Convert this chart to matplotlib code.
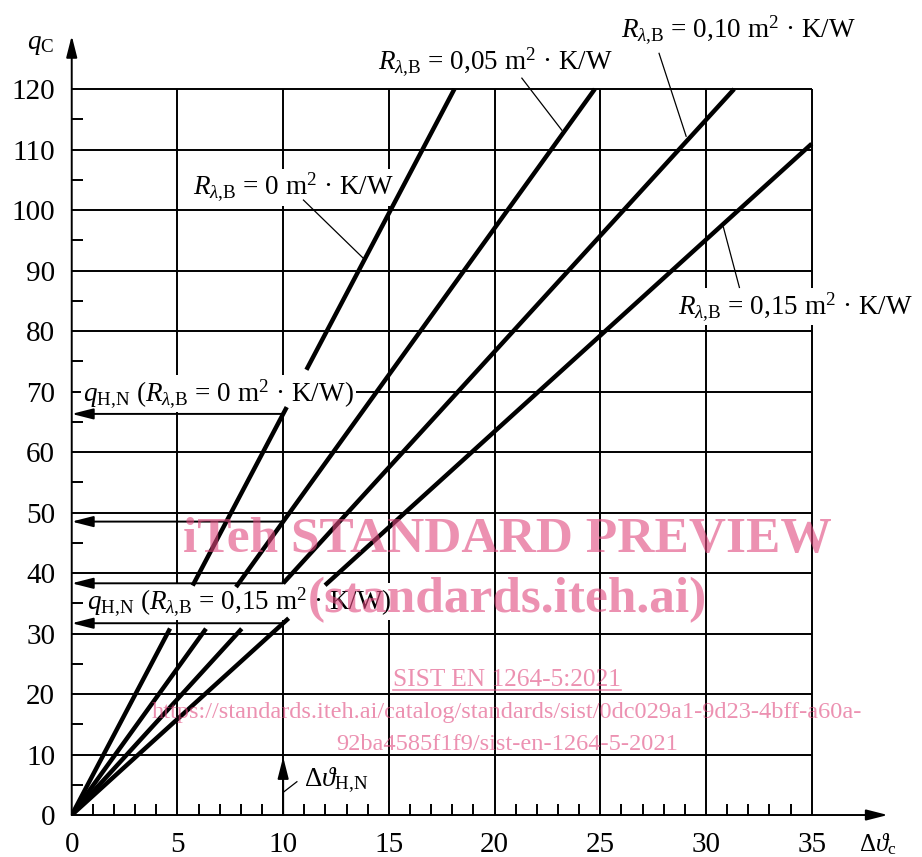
import matplotlib
matplotlib.use('Agg')
import matplotlib.pyplot as plt

plt.rcParams['font.family'] = ['Liberation Serif', 'DejaVu Serif']
plt.rcParams['mathtext.fontset'] = 'custom'
plt.rcParams['mathtext.rm'] = 'Liberation Serif'
plt.rcParams['mathtext.it'] = 'Liberation Serif:italic'
plt.rcParams['mathtext.bf'] = 'Liberation Serif:bold'

# Kennlinien: Waermestromdichte q bei dT = 10 K (Schnittpunkte mit der Normlinie)
r_werte = ['0', '0,05', '0,10', '0,15']
q_hn = [66.3, 48.5, 38.3, 31.7]
dt_hn = 10
# sichtbare Abschnitte jeder Linie (x-Bereiche), Luecken wegen Beschriftung
abschnitte = [
    [(0, 4.65), (5.72, 10.17), (11.1, None)],
    [(0, 6.35), (7.77, None)],
    [(0, 8.04), (10.0, None)],
    [(0, 10.26), (11.98, None)],
]

x_ticks = [0, 5, 10, 15, 20, 25, 30, 35]
y_ticks = [0, 10, 20, 30, 40, 50, 60, 70, 80, 90, 100, 110, 120]
x_max, y_max = 35, 120

fig = plt.figure(figsize=(9.22, 8.57), dpi=100)
ax = fig.add_axes([0.0778, 0.049, 0.8943, 0.9177])
ax.set_xlim(0, 39)
ax.set_ylim(0, 130)
for s in ax.spines.values():
    s.set_visible(False)

# Gitter
ax.vlines(x_ticks[1:], 0, y_max, color='black', lw=1.4, zorder=1)
ax.hlines(y_ticks[1:], 0, x_max, color='black', lw=1.4, zorder=1)

pfeil = dict(arrowstyle='-|>,head_length=1.3,head_width=0.33',
             lw=1.4, color='black', shrinkA=0, shrinkB=0)

# Achsen mit Pfeilen
ax.annotate('', xy=(38.6, 0), xytext=(0, 0), arrowprops=pfeil, zorder=5)
ax.annotate('', xy=(0, 128.8), xytext=(0, 0), arrowprops=pfeil, zorder=5)

ax.set_xticks(x_ticks)
ax.set_yticks(y_ticks)
ax.set_xticks([v for v in range(1, 35) if v % 5], minor=True)
ax.set_yticks([v for v in range(5, 120, 10)], minor=True)
ax.tick_params(which='major', length=0, labelsize=21, pad=12)
ax.tick_params(which='minor', direction='in', length=8, width=1.4)

# Kennlinien
for q, teile in zip(q_hn, abschnitte):
    k = q / dt_hn
    x_end = min(x_max, y_max / k)
    for a, b in teile:
        b = x_end if b is None else b
        ax.plot([a, b], [k * a, k * b], color='black', lw=3.2,
                solid_capstyle='butt', zorder=4)

# Pfeile q_H,N und dT_H,N
for q in q_hn:
    ax.annotate('', xy=(0, q), xytext=(dt_hn, q), arrowprops=pfeil, zorder=4)
ax.annotate('', xy=(dt_hn, 9.6), xytext=(dt_hn, 0), arrowprops=pfeil, zorder=4)

box = dict(facecolor='white', edgecolor='none', pad=1.5)
fs = 19.5
R = r'$R_{\lambda{,}\mathrm{B}}$'
Q = r'$q_{\mathrm{H{,}N}}$'

# Beschriftungen der Linien
ax.text(5.74, 103.8, R + ' = 0 m$^2$ · K/W', fontsize=fs,
        va='center', bbox=box, zorder=3)
ax.plot([10.96, 13.8], [101.65, 92.0], color='black', lw=0.9, zorder=4)
ax.text(14.5, 124.5, R + ' = 0,05 m$^2$ · K/W', fontsize=fs,
        va='center', bbox=box, zorder=3)
ax.plot([21.29, 23.18], [121.8, 113.2], color='black', lw=0.9, zorder=4)
ax.text(26.0, 129.8, R + ' = 0,10 m$^2$ · K/W', fontsize=fs,
        va='center', bbox=box, zorder=3)
ax.plot([27.78, 29.06], [125.9, 112.2], color='black', lw=0.9, zorder=4)
ax.text(28.68, 84.1, R + ' = 0,15 m$^2$ · K/W', fontsize=fs,
        va='center', bbox=box, zorder=3)
ax.plot([30.82, 31.58], [97.2, 87.2], color='black', lw=0.9, zorder=4)

ax.text(0.54, 69.6, Q + ' (' + R + ' = 0 m$^2$ · K/W)',
        fontsize=fs, va='center', bbox=box, zorder=3)
ax.text(0.73, 35.3, Q + ' (' + R + ' = 0,15 m$^2$ · K/W)',
        fontsize=fs, va='center', bbox=box, zorder=3)

ax.text(11.0, 5.8, r'$\Delta\vartheta_{\mathrm{H{,}N}}$', fontsize=fs, va='center', zorder=3)
ax.plot([10.04, 10.65], [3.85, 5.5], color='black', lw=0.9, zorder=4)

ax.text(-2.1, 127.3, r'$q_\mathrm{C}$', fontsize=fs, ha='left', va='center')
ax.text(37.25, -4.9, r'$\Delta\vartheta_\mathrm{c}$', fontsize=18, ha='left', va='center')

# Wasserzeichen
pink = '#E0487E'
ax.text(20.6, 45.5, 'iTeh STANDARD PREVIEW', fontsize=37, fontweight='bold',
        color=pink, alpha=0.6, ha='center', va='center', zorder=6)
ax.text(20.6, 35.5, '(standards.iteh.ai)', fontsize=37, fontweight='bold',
        color=pink, alpha=0.6, ha='center', va='center', zorder=6)
sist = ax.text(20.6, 22.3, 'SIST EN 1264-5:2021', fontsize=18.3,
               color=pink, alpha=0.6, ha='center', va='center', zorder=6)
ax.text(20.6, 17.0, 'https://standards.iteh.ai/catalog/standards/sist/0dc029a1-9d23-4bff-a60a-',
        fontsize=17.6, color=pink, alpha=0.6, ha='center', va='center', zorder=6)
ax.text(20.6, 11.7, '92ba4585f1f9/sist-en-1264-5-2021', fontsize=17.6,
        color=pink, alpha=0.6, ha='center', va='center', zorder=6)

fig.canvas.draw()
bb = sist.get_window_extent().transformed(ax.transData.inverted())
ax.plot([bb.x0, bb.x1], [bb.y0 + 0.2, bb.y0 + 0.2], color=pink, alpha=0.6, lw=1.2, zorder=6)

fig.savefig('out.png', dpi=100)
